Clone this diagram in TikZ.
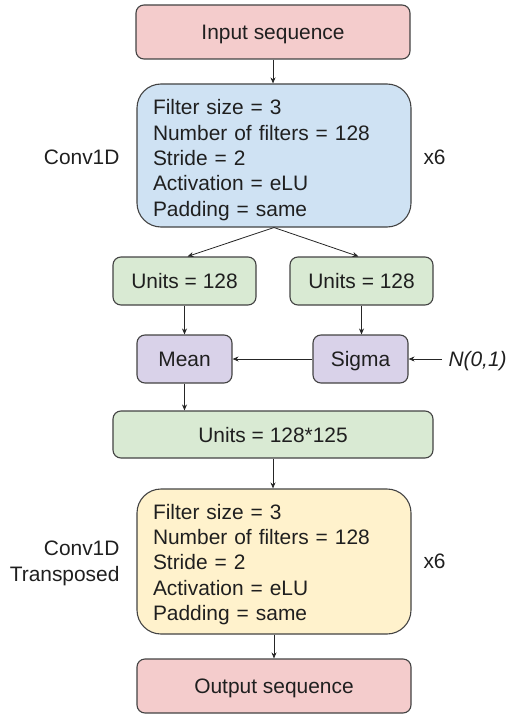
\documentclass[tikz,border=0pt]{standalone}
\usepackage{fontspec}
\setmainfont{Liberation Sans}
\usetikzlibrary{arrows.meta}
\definecolor{bred}{HTML}{F4CCCC}
\definecolor{bblue}{HTML}{CFE2F3}
\definecolor{bgreen}{HTML}{D9EAD3}
\definecolor{bpurple}{HTML}{D9D2E9}
\definecolor{byellow}{HTML}{FFF2CC}
\definecolor{bline}{HTML}{434343}
\begin{document}
\begin{tikzpicture}[x=1bp,y=-1bp,
  every node/.style={font=\fontsize{21}{25.5}\selectfont, text=black!88},
  box/.style={draw=bline, line width=1.1bp, rounded corners=8bp, inner sep=0pt, align=center,
     text height=15bp, text depth=0bp},
  bigbox/.style={draw=bline, line width=1.1bp, rounded corners=24bp, inner sep=0pt,
     minimum width=274bp, minimum height=143bp},
  bigtext/.style={inner sep=0pt, text width=242bp, align=left},
  conn/.style={draw=black!85, line width=0.8bp, -{Stealth[length=6bp,width=5bp]}}]
\path[use as bounding box] (0,0) rectangle (507,715);
\node[box, fill=bred, minimum width=274bp, minimum height=54bp] (in) at (273,32) {Input sequence};
\node[bigbox, fill=bblue] (conv) at (274,155.5) {};
\node[bigtext] (convt) at (274,160) {Filter size = 3\\Number of filters = 128\\Stride = 2\\Activation = eLU\\Padding = same};
\node[anchor=east] (convl) at (123,157) {Conv1D};
\node[anchor=west] (x1) at (420,157) {x6};
\node[box, fill=bgreen, minimum width=143bp, minimum height=48bp] (u1) at (184.5,281) {Units = 128};
\node[box, fill=bgreen, minimum width=143bp, minimum height=48bp] (u2) at (361.5,281) {Units = 128};
\node[box, fill=bpurple, minimum width=95bp, minimum height=48bp] (mean) at (184.5,359) {Mean};
\node[box, fill=bpurple, minimum width=95bp, minimum height=48bp] (sigma) at (360.5,359) {Sigma};
\node[anchor=west, text height=15bp, text depth=0bp, font=\fontsize{21}{25.5}\selectfont\itshape] (n01) at (445,359) {N(0,1)};
\node[box, fill=bgreen, minimum width=320bp, minimum height=47bp] (u3) at (273,434.5) {Units = 128*125};
\node[bigbox, fill=byellow, minimum height=145bp] (tconv) at (274,561.5) {};
\node[bigtext] (tconvt) at (274,564.5) {Filter size = 3\\Number of filters = 128\\Stride = 2\\Activation = eLU\\Padding = same};
\node[anchor=east, align=right] (tconvl) at (123,563.5) {Conv1D\\Transposed};
\node[anchor=west] (x2) at (420,561) {x6};
\node[box, fill=bred, minimum width=274bp, minimum height=54bp] (out) at (274,686) {Output sequence};
\draw[conn] (in.south) -- (in.south |- conv.north);
\draw[conn] (conv.south) -- ([xshift=3bp]u1.north);
\draw[conn] (conv.south) -- ([xshift=-3bp]u2.north);
\draw[conn] (u1.south) -- (mean.north);
\draw[conn] (u2.south) -- (u2.south |- sigma.north);
\draw[conn] (sigma.west) -- (mean.east);
\draw[conn] ([xshift=-3bp]n01.west) -- (sigma.east);
\draw[conn] (mean.south) -- (mean.south |- u3.north);
\draw[conn] (u3.south) -- (u3.south |- tconv.north);
\draw[conn] (tconv.south) -- (tconv.south |- out.north);
\end{tikzpicture}
\end{document}
